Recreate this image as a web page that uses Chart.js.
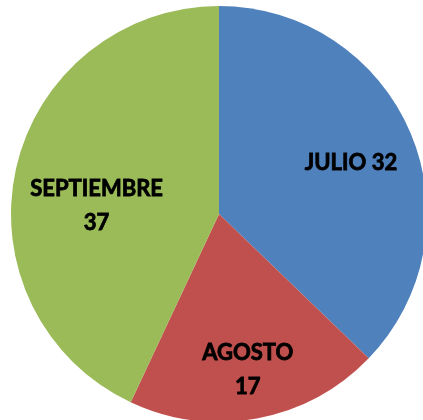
<!DOCTYPE html>
<html>
<head>
<meta charset="utf-8">
<script src="https://cdn.jsdelivr.net/npm/chart.js@4.4.0/dist/chart.umd.min.js"></script>
<style>
  html, body { margin: 0; padding: 0; background: #fff; overflow: hidden; }
  #wrap { position: absolute; left: 0; top: 0; }
</style>
</head>
<body>
<div id="wrap"><canvas id="chart" width="438" height="428"></canvas></div>
<script>
    "use strict";

    // data
    const MONTHS = ["JULIO", "AGOSTO", "SEPTIEMBRE"];
    const VALUES = [32, 17, 37];
    const COLORS = ["#4F81BD", "#C0504D", "#9BBB59"];

    // label text is split on two lines for the smaller room
    const LABEL_LINES = [
        ["JULIO 32"],
        ["AGOSTO", "17"],
        ["SEPTIEMBRE", "37"],
    ];
    // where the label sits, as a share of the radius and a turn off the slice middle (degrees)
    const LABEL_RADIUS = [0.68, 0.76, 0.59];
    const LABEL_TURN = [2, 0, -8.6];

    // Plugin to write the category name and value inside each slice.
    const sliceLabels = {
        id: "sliceLabels",
        afterDatasetsDraw: (chart) => {
            const { ctx } = chart;
            const meta = chart.getDatasetMeta(0);
            ctx.save();
            ctx.fillStyle = "#000";
            ctx.font = "bold 22px Lato";
            ctx.textAlign = "center";
            ctx.textBaseline = "middle";
            meta.data.forEach((arc, i) => {
                const p = arc.getProps(["x", "y", "startAngle", "endAngle", "outerRadius"], true);
                const mid = (p.startAngle + p.endAngle) / 2 + LABEL_TURN[i] * Math.PI / 180;
                const r = p.outerRadius * LABEL_RADIUS[i];
                const cx = p.x + Math.cos(mid) * r;
                const cy = p.y + Math.sin(mid) * r;
                const lines = LABEL_LINES[i];
                const lineH = 34;
                lines.forEach((line, k) => {
                    const y = cy + (k - (lines.length - 1) / 2) * lineH;
                    // a thin stroke to get the heavier look of the original
                    ctx.lineWidth = 0.8;
                    ctx.strokeStyle = "#000";
                    ctx.strokeText(line, cx, y);
                    ctx.fillText(line, cx, y);
                });
            });
            ctx.restore();
        },
    };

    const ctx = document.getElementById("chart").getContext("2d");
    new Chart(ctx, {
        type: "pie",
        data: {
            labels: MONTHS,
            datasets: [
                {
                    data: VALUES,
                    backgroundColor: COLORS,
                    borderWidth: 0,
                },
            ],
        },
        options: {
            responsive: false,
            animation: false,
            layout: {
                padding: { left: 11, right: 11, top: 6, bottom: 6 }
            },
            plugins: {
                legend: { display: false },
                tooltip: { enabled: false }
            }
        },
        plugins: [sliceLabels]
    });
</script>
</body>
</html>
